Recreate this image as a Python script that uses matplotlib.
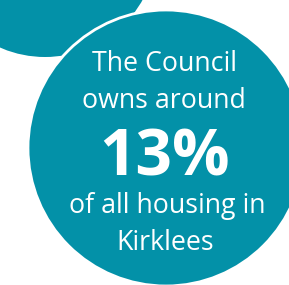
import matplotlib
matplotlib.use("Agg")
import matplotlib.pyplot as plt
from matplotlib.patches import Circle

# Infographic content
share_pct = 13
top_lines = ["The Council", "owns around"]
bottom_lines = ["of all housing in", "Kirklees"]

teal = "#0391a8"
W, H = 289, 285

fig = plt.figure(figsize=(W / 100, H / 100), dpi=100)
ax = fig.add_axes([0, 0, 1, 1])
ax.set_xlim(0, W)
ax.set_ylim(H, 0)
ax.set_aspect("equal")
ax.axis("off")

# small background bubble (top-left) and main bubble with white rim
ax.add_patch(Circle((45, -55), 112, facecolor=teal, edgecolor="none"))
ax.add_patch(Circle((166, 148), 138, facecolor=teal, edgecolor="white", linewidth=2))

font = "Open Sans"
size = 19.3
ax.text(165, 71, top_lines[0], ha="center", va="baseline", color="white",
        fontsize=size, family=font)
ax.text(164, 108, top_lines[1], ha="center", va="baseline", color="white",
        fontsize=size, family=font)
ax.text(165, 175, f"{share_pct}%", ha="center", va="baseline", color="white",
        fontsize=46, family=font, fontweight="bold")
ax.text(167, 213, bottom_lines[0], ha="center", va="baseline", color="white",
        fontsize=size, family=font)
ax.text(165, 250, bottom_lines[1], ha="center", va="baseline", color="white",
        fontsize=size, family=font)

fig.savefig("out.png", dpi=100)
